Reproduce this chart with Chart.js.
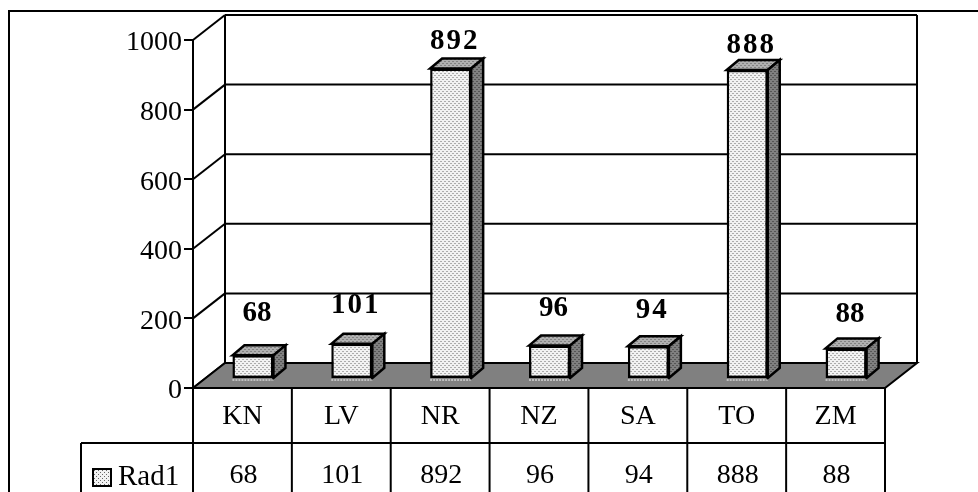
<!DOCTYPE html>
<html>
<head>
<meta charset="utf-8">
<style>
  html, body { margin: 0; padding: 0; background: #fff; }
  #wrap { width: 978px; height: 492px; }
</style>
<script src="https://cdn.jsdelivr.net/npm/chart.js@4"></script>
</head>
<body>
<div id="wrap"><canvas id="chart" width="978" height="492"></canvas></div>
<script>
// Data
const categories = ['KN', 'LV', 'NR', 'NZ', 'SA', 'TO', 'ZM'];
const seriesName = 'Rad1';
const values = [68, 101, 892, 96, 94, 888, 88];
const yTicks = [0, 200, 400, 600, 800, 1000];

// Look of the old 3D chart
const serif = '"Liberation Serif", serif';
const wallDx = 32, wallDy = -25;   // axis plane -> back wall
const barDx = 10.5, barDy = -9;    // axis plane -> bar front
const sideDx = 12, sideDy = -10;   // bar front -> bar back
const labelLift = [51, 47, 36, 46, 45, 33, 43];  // labels were placed by hand in the original

function stipple(bg, dot) {
  const c = document.createElement('canvas');
  c.width = c.height = 4;
  const g = c.getContext('2d');
  g.fillStyle = bg;
  g.fillRect(0, 0, 4, 4);
  g.fillStyle = dot;
  g.fillRect(0, 0, 1, 1);
  g.fillRect(2, 2, 1, 1);
  return g.createPattern(c, 'repeat');
}
const frontFill = stipple('#f2f2f2', '#666');
const topFill = stipple('#b0b0b0', '#555');
const sideFill = stipple('#808080', '#2a2a2a');

function line(ctx, x1, y1, x2, y2) {
  ctx.beginPath();
  ctx.moveTo(x1, y1);
  ctx.lineTo(x2, y2);
  ctx.stroke();
}

function poly(ctx, pts, fill) {
  ctx.beginPath();
  pts.forEach((p, i) => i ? ctx.lineTo(p[0], p[1]) : ctx.moveTo(p[0], p[1]));
  ctx.closePath();
  ctx.fillStyle = fill;
  ctx.fill();
  ctx.stroke();
}

const scene = {
  id: 'scene',
  // frame, back wall, floor and data table go under the bars
  beforeDatasetsDraw(chart) {
    const { ctx, scales: { y } } = chart;
    const area = chart.chartArea;
    const y0 = y.getPixelForValue(0);
    const colW = (area.right - area.left) / categories.length;

    ctx.save();
    ctx.strokeStyle = '#000';
    ctx.lineWidth = 2;
    line(ctx, 9, 11, 978, 11);
    line(ctx, 9, 10, 9, 492);

    // back wall
    yTicks.forEach(t => {
      const py = y.getPixelForValue(t);
      line(ctx, area.left, py, area.left + wallDx, py + wallDy);
      line(ctx, area.left + wallDx, py + wallDy, area.right + wallDx, py + wallDy);
    });
    line(ctx, area.left + wallDx, y.getPixelForValue(1000) + wallDy, area.left + wallDx, y0 + wallDy);
    line(ctx, area.right + wallDx, y.getPixelForValue(1000) + wallDy, area.right + wallDx, y0 + wallDy);

    // floor
    poly(ctx, [
      [area.left, y0],
      [area.left + wallDx, y0 + wallDy],
      [area.right + wallDx, y0 + wallDy],
      [area.right, y0]
    ], '#808080');

    // data table
    const row1 = y0 + 55;
    line(ctx, 81, row1, area.right, row1);
    line(ctx, 81, row1, 81, 492);
    for (let i = 0; i <= categories.length; i++) {
      const px = area.left + i * colW;
      line(ctx, px, y0, px, 492);
    }
    ctx.fillStyle = frontFill;
    ctx.fillRect(93, 469, 18, 17);
    ctx.strokeRect(93, 469, 18, 17);

    ctx.fillStyle = '#000';
    ctx.font = '29px ' + serif;
    ctx.textAlign = 'left';
    ctx.textBaseline = 'alphabetic';
    ctx.fillText(seriesName, 118, 485);
    ctx.textAlign = 'center';
    ctx.font = '28px ' + serif;
    values.forEach((v, i) => {
      ctx.fillText(String(v), area.left + (i + 0.5) * colW + 1, 483);
    });
    ctx.restore();

    // bars themselves are drawn by Chart.js, shifted back from the axis plane
    ctx.save();
    ctx.translate(barDx, barDy);
    ctx.strokeStyle = '#000';
    ctx.lineWidth = 2.5;
    chart.getDatasetMeta(0).data.forEach(bar => {
      const l = bar.x - bar.width / 2, r = bar.x + bar.width / 2;
      poly(ctx, [[l, bar.y], [l + sideDx, bar.y + sideDy], [r + sideDx, bar.y + sideDy], [r, bar.y]], topFill);
      poly(ctx, [[r, bar.y], [r + sideDx, bar.y + sideDy], [r + sideDx, bar.base + sideDy], [r, bar.base]], sideFill);
      // pale speckled edge under the front face
      ctx.save();
      ctx.strokeStyle = '#fff';
      ctx.lineWidth = 1;
      ctx.setLineDash([2, 1]);
      line(ctx, l, bar.base + 2, r, bar.base + 2);
      ctx.restore();
    });
  },
  afterDatasetsDraw(chart) {
    const { ctx, scales: { y } } = chart;
    ctx.restore();

    // data labels
    ctx.save();
    ctx.fillStyle = '#000';
    ctx.font = 'bold 29px ' + serif;
    ctx.textAlign = 'center';
    ctx.textBaseline = 'middle';
    chart.getDatasetMeta(0).data.forEach((bar, i) => {
      const v = values[i];
      const text = String(v);
      ctx.letterSpacing = (text === '68' || text === '96' || text === '88') ? '0px' : '2px';
      ctx.fillText(text, bar.x + barDx + 4, y.getPixelForValue(v) - labelLift[i]);
    });
    ctx.restore();
  }
};

new Chart(document.getElementById('chart'), {
  type: 'bar',
  data: {
    labels: categories,
    datasets: [{
      label: seriesName,
      data: values,
      backgroundColor: frontFill,
      borderColor: '#000',
      borderWidth: 2.5,
      borderSkipped: false,
      barPercentage: 0.415,
      categoryPercentage: 1,
      clip: false
    }]
  },
  options: {
    responsive: false,
    animation: false,
    events: [],
    layout: { padding: { left: 120, right: 93, top: 40, bottom: 0 } },
    plugins: { legend: { display: false }, tooltip: { enabled: false } },
    scales: {
      x: {
        grid: { display: false },
        border: { display: false },
        afterFit(scale) { scale.height = 104; },
        ticks: {
          color: '#000',
          font: { family: serif, size: 28 },
          padding: 4,
          maxRotation: 0
        }
      },
      y: {
        min: 0,
        max: 1000,
        afterFit(scale) { scale.width = 73; },
        afterBuildTicks(scale) { scale.ticks = yTicks.map(value => ({ value })); },
        grid: { drawOnChartArea: false, color: '#000', lineWidth: 2, tickLength: 9 },
        border: { display: true, color: '#000', width: 2 },
        ticks: {
          color: '#000',
          font: { family: serif, size: 28 },
          padding: 2,
          labelOffset: 3,
          callback: v => String(v)
        }
      }
    }
  },
  plugins: [scene]
});
</script>
</body>
</html>
